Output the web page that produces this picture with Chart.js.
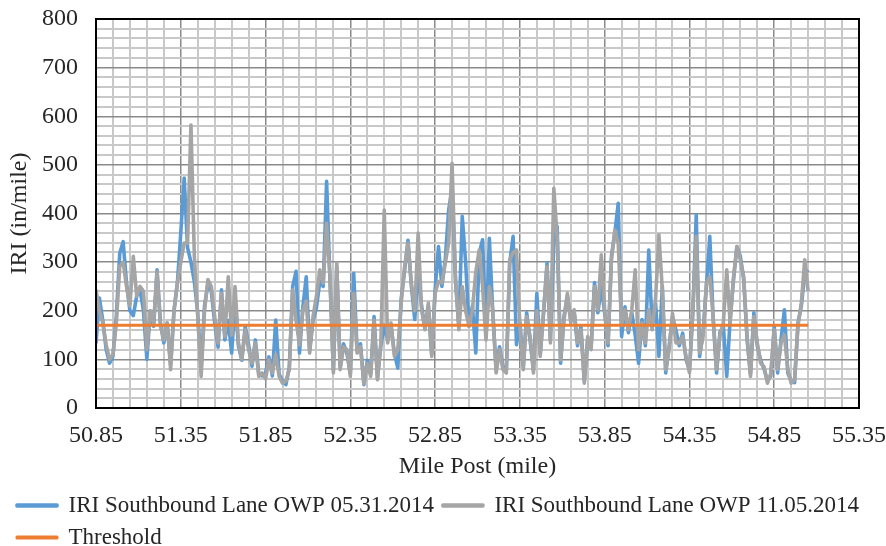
<!DOCTYPE html>
<html>
<head>
<meta charset="utf-8">
<script src="https://cdn.jsdelivr.net/npm/chart.js@4.4.1/dist/chart.umd.min.js"></script>
<style>
    html, body { margin: 0; padding: 0; background: #fff; }
    #wrap { width: 886px; height: 546px; }
</style>
</head>
<body>
<div id="wrap"><canvas id="myChart"></canvas></div>
<script>
// mile posts start at 50.85, one reading every 0.02 mile
const startMile = 50.85;
const stepMile = 0.02;

// IRI Southbound Lane OWP 05.31.2014 (blue)
const iriMay = [
    133, 226, 180, 120, 92, 106, 190, 318, 342, 257,
    200, 190, 230, 243, 200, 100, 200, 168, 284, 175,
    134, 175, 90, 200, 257, 360, 473, 330, 300, 260,
    195, 80, 210, 255, 240, 175, 125, 243, 140, 180,
    113, 220, 128, 98, 168, 130, 86, 140, 70, 66,
    72, 105, 66, 181, 70, 56, 48, 84, 250, 281,
    113, 208, 270, 118, 180, 206, 260, 250, 466, 262,
    78, 290, 84, 132, 112, 70, 277, 118, 132, 48,
    98, 70, 188, 62, 128, 170, 140, 168, 112, 82,
    225, 282, 345, 250, 182, 284, 210, 165, 208, 110,
    244, 332, 250, 306, 407, 452, 262, 168, 394, 300,
    168, 210, 113, 318, 346, 146, 349, 196, 78, 126,
    84, 78, 298, 353, 130, 176, 84, 196, 140, 78,
    236, 112, 196, 298, 140, 340, 373, 92, 188, 230,
    182, 196, 128, 168, 56, 140, 126, 258, 196, 250,
    196, 128, 312, 360, 421, 147, 208, 155, 196, 150,
    92, 182, 128, 325, 168, 216, 106, 250, 72, 126,
    188, 160, 128, 154, 100, 78, 196, 397, 106, 154,
    250, 353, 182, 72, 156, 168, 65, 182, 264, 332,
    312, 264, 140, 70, 196, 128, 98, 80, 56, 66,
    168, 72, 140, 202, 72, 56, 52, 175, 210, 276, 284
];

// IRI Southbound Lane OWP 11.05.2014 (gray)
const iriNov = [
    243, 200, 175, 130, 100, 110, 175, 291, 300, 250,
    210, 312, 230, 250, 240, 120, 200, 175, 280, 170,
    140, 175, 79, 200, 257, 300, 339, 339, 582, 312,
    188, 65, 200, 264, 250, 188, 134, 236, 147, 270,
    150, 250, 134, 100, 161, 120, 92, 134, 65, 72,
    60, 99, 72, 110, 65, 51, 55, 79, 243, 180,
    130, 200, 220, 113, 188, 230, 284, 257, 380, 270,
    72, 298, 79, 126, 120, 65, 236, 113, 126, 50,
    92, 65, 181, 58, 134, 407, 134, 175, 106, 120,
    216, 291, 339, 257, 200, 360, 202, 161, 216, 106,
    236, 260, 257, 298, 340, 503, 270, 161, 250, 200,
    168, 202, 280, 325, 250, 140, 250, 202, 72, 120,
    79, 72, 305, 320, 325, 168, 79, 188, 147, 72,
    200, 106, 202, 291, 134, 452, 350, 99, 180, 236,
    175, 202, 134, 161, 51, 147, 120, 250, 202, 315,
    202, 134, 305, 366, 339, 170, 202, 161, 202, 284,
    120, 175, 134, 202, 161, 223, 356, 243, 79, 120,
    195, 134, 134, 147, 106, 72, 202, 353, 113, 147,
    257, 270, 188, 79, 150, 175, 284, 175, 270, 332,
    305, 270, 147, 65, 188, 134, 92, 85, 51, 72,
    161, 79, 134, 150, 79, 51, 58, 168, 216, 305, 240
];

const thresholdIri = 170;

const xTickLabels = ['50.85', '51.35', '51.85', '52.35', '52.85', '53.35', '53.85', '54.35', '54.85', '55.35'];
const yTickLabels = [0, 100, 200, 300, 400, 500, 600, 700, 800];

const mileposts = iriMay.map((v, i) => +(startMile + i * stepMile).toFixed(2));

// major ticks from the labels, 4 minor ticks (0.1 mile) in between
let xTicks = [];
xTickLabels.forEach((lbl, j) => {
    let m = parseFloat(lbl);
    xTicks.push({ value: m });
    if (j < xTickLabels.length - 1) {
        for (let k = 1; k < 5; k++) {
            xTicks.push({ value: m + k * 0.1 });
        }
    }
});

const serif = "'Liberation Serif', 'Times New Roman', serif";
Chart.defaults.font.family = serif;
Chart.defaults.color = '#262626';

const framePlugin = {
    id: 'frame',
    afterDatasetsDraw(chart) {
        const { ctx, chartArea: a } = chart;
        ctx.save();
        ctx.strokeStyle = '#000';
        ctx.lineWidth = 2;
        ctx.strokeRect(a.left, a.top, a.right - a.left, a.bottom - a.top);
        ctx.restore();
    }
};

let ctx = document.getElementById('myChart');

let myChart = new Chart(ctx, {
    type: 'line',
    data: {
        datasets: [{
            label: 'Threshold',
            data: mileposts.map((m) => ({ x: m, y: thresholdIri })),
            borderColor: '#ED7D31',
            backgroundColor: '#ED7D31',
            borderWidth: 3
        }, {
            label: 'IRI Southbound Lane OWP 11.05.2014',
            data: mileposts.map((m, i) => ({ x: m, y: iriNov[i] })),
            borderColor: '#A5A5A5',
            backgroundColor: '#A5A5A5',
            borderWidth: 3.6
        }, {
            label: 'IRI Southbound Lane OWP 05.31.2014',
            data: mileposts.map((m, i) => ({ x: m, y: iriMay[i] })),
            borderColor: '#5B9BD5',
            backgroundColor: '#5B9BD5',
            borderWidth: 3.6
        }]
    },
    options: {
        responsive: true,
        maintainAspectRatio: false,
        animation: false,
        elements: {
            point: { radius: 0 },
            line: { tension: 0, borderJoinStyle: 'round' }
        },
        layout: {
            padding: { left: 8, right: 1, top: 19, bottom: 0 }
        },
        scales: {
            x: {
                type: 'linear',
                min: 50.85,
                max: 55.35,
                afterBuildTicks: (scale) => { scale.ticks = xTicks.map((t) => ({ value: t.value })); },
                afterFit: (scale) => {
                    scale.height = 77;
                    scale.paddingLeft = 27;
                    scale.paddingRight = 27;
                },
                ticks: {
                    autoSkip: false,
                    maxRotation: 0,
                    padding: 16,
                    font: { size: 24, lineHeight: 1 },
                    callback: (value, index) => index % 5 === 0 ? xTickLabels[index / 5] : ''
                },
                grid: {
                    drawTicks: false,
                    color: (c) => c.index % 5 === 0 ? '#8a8a8a' : '#c8c8c8',
                    lineWidth: (c) => c.index % 5 === 0 ? 1.5 : 2
                },
                border: { display: false },
                title: {
                    display: true,
                    text: 'Mile Post (mile)',
                    font: { size: 24, lineHeight: 1 },
                    padding: { top: 0, bottom: 6 }
                }
            },
            y: {
                min: 0,
                max: 800,
                afterFit: (scale) => {
                    scale.width = 88;
                    scale.paddingTop = 12;
                    scale.paddingBottom = 12;
                },
                ticks: {
                    stepSize: 20,
                    autoSkip: false,
                    padding: 18,
                    font: { size: 24, lineHeight: 1 },
                    callback: (value) => yTickLabels.includes(value) ? value : ''
                },
                grid: {
                    drawTicks: false,
                    color: (c) => c.tick && c.tick.value % 100 === 0 ? '#8a8a8a' : '#c8c8c8',
                    lineWidth: (c) => c.tick && c.tick.value % 100 === 0 ? 1.5 : 2
                },
                border: { display: false },
                title: {
                    display: true,
                    text: 'IRI (in/mile)',
                    font: { size: 24, lineHeight: 1 },
                    padding: { top: 0, bottom: 0 }
                }
            }
        },
        plugins: {
            legend: {
                position: 'bottom',
                align: 'start',
                reverse: true,
                maxHeight: 61,
                labels: {
                    boxWidth: 40,
                    boxHeight: 1,
                    padding: 9,
                    font: { size: 23 }
                }
            },
            tooltip: { enabled: false }
        }
    },
    plugins: [framePlugin]
});
</script>
</body>
</html>
